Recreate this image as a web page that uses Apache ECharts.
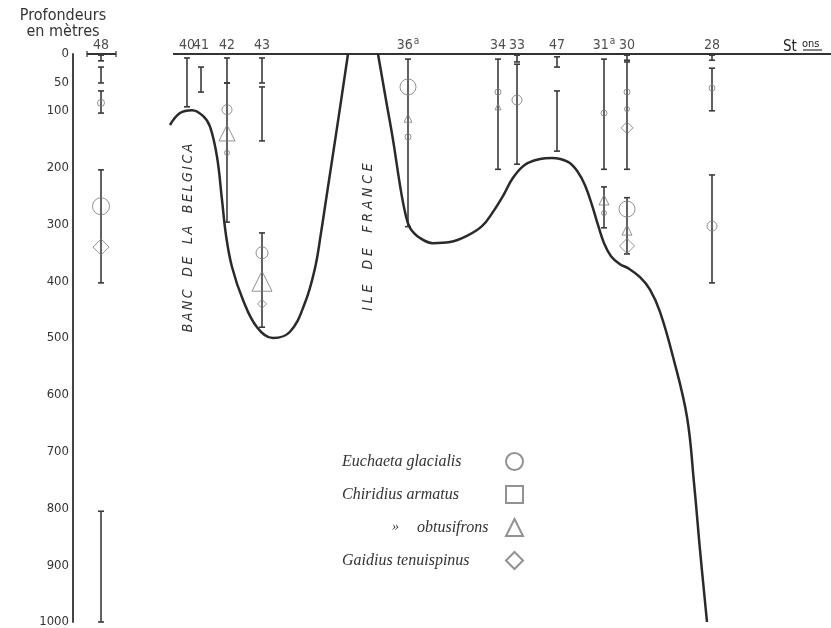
<!DOCTYPE html>
<html>
<head>
<meta charset="utf-8">
<script src="https://cdn.jsdelivr.net/npm/echarts@6/dist/echarts.min.js"></script>
<style>html,body{margin:0;background:#fff}#main{width:831px;height:628px}</style>
</head>
<body>
<div id="main"></div>
<script>
// stations along the section (horizontal distance, arbitrary units)
var stationNames = ['48', '40', '41', '42', '43', '36a', '34', '33', '47', '31a', '30', '28'];
var stationDist = [28, 114, 128, 154, 189, 335, 425, 444, 484, 531, 554, 639];

// depth labels (m)
var depthTicks = [0, 50, 100, 200, 300, 400, 500, 600, 700, 800, 900, 1000];

// hauls: [station, top depth, bottom depth]
var hauls = [
  ['48', 2, 12], ['48', 23, 51], ['48', 65, 104], ['48', 204, 403], ['48', 805, 1000],
  ['40', 7, 93],
  ['41', 23, 67],
  ['42', 7, 51], ['42', 51, 296],
  ['43', 7, 51], ['43', 58, 153], ['43', 315, 481],
  ['36a', 9, 304],
  ['34', 9, 203],
  ['33', 2, 14], ['33', 18, 194],
  ['47', 5, 23], ['47', 65, 171],
  ['31a', 9, 203], ['31a', 234, 306],
  ['30', 2, 11], ['30', 14, 203], ['30', 253, 352],
  ['28', 2, 11], ['28', 25, 100], ['28', 213, 403]
];

// catches: [station, depth, mark size]
var euchaeta = [['48', 86, 7], ['48', 268, 17], ['42', 98, 10], ['42', 174, 5], ['43', 350, 12],
  ['36a', 58, 16], ['36a', 146, 6], ['34', 67, 6], ['33', 81, 10], ['31a', 104, 6], ['31a', 280, 5],
  ['30', 67, 6], ['30', 97, 5], ['30', 273, 16], ['28', 60, 6], ['28', 303, 10]];
var armatus = [];
var obtusifrons = [['42', 139, 16], ['43', 400, 20], ['36a', 113, 8], ['34', 93, 6], ['31a', 257, 10], ['30', 310, 10]];
var gaidius = [['48', 340, 16], ['43', 440, 9], ['30', 130, 12], ['30', 338, 15]];

// sea bottom profile
var bankDist = [97, 107, 119, 130, 137, 144, 149, 153, 159, 170, 184, 200, 217, 232, 242, 248, 253, 264, 275];
var bankDepth = [125, 104, 99, 109, 128, 181, 257, 319, 375, 433, 481, 500, 489, 438, 377, 315, 257, 130, 0];
var slopeDist = [305, 313, 320, 327, 332, 337, 347, 360, 377, 394, 409, 420, 430, 440, 452, 467, 479, 495, 505, 512,
  519, 525, 531, 538, 547, 555, 567, 577, 587, 600, 614, 621, 627, 634];
var slopeDepth = [0, 81, 151, 231, 278, 306, 324, 333, 331, 320, 303, 278, 250, 218, 195, 185, 183, 190, 208, 231,
  266, 301, 333, 356, 370, 377, 393, 415, 454, 533, 639, 755, 873, 1000];

// sea surface line segments
var surfaceFrom = [14, 100];
var surfaceTo = [43, 758];

var SANS = '"DejaVu Sans Condensed", "DejaVu Sans", sans-serif';
var SERIF = '"Liberation Serif", "DejaVu Serif", serif';

function stX(name) { return stationDist[stationNames.indexOf(name)]; }
function pts(list) { return list.map(function (p) { return [stX(p[0]), p[1], p[2]]; }); }
function zip(a, b) { return a.map(function (v, i) { return [v, b[i]]; }); }

var markStyle = { color: 'rgba(0,0,0,0)', borderColor: '#777', borderWidth: 1 };
function catchSeries(name, symbol, data) {
  return {
    name: name, type: 'scatter', symbol: symbol, data: pts(data), z: 5,
    symbolSize: function (v) { return v[2]; },
    itemStyle: markStyle
  };
}

var chart = echarts.init(document.getElementById('main'));
chart.setOption({
  animation: false,
  backgroundColor: '#fff',
  grid: { left: 73, right: 0, top: 54, bottom: 6, outerBoundsMode: 'none' },
  xAxis: { type: 'value', min: 0, max: 758, show: false },
  yAxis: {
    type: 'value', min: 0, max: 1000, inverse: true,
    axisLine: { show: true, lineStyle: { color: '#444', width: 2 } },
    axisTick: { show: false },
    splitLine: { show: false },
    axisLabel: {
      customValues: depthTicks, margin: 4, fontSize: 13, color: '#333', fontFamily: SANS,
      formatter: function (v) { return String(v); }
    }
  },
  legend: {
    orient: 'vertical', align: 'right', right: 307, top: 452, padding: 0,
    itemWidth: 17, itemHeight: 17, itemGap: 14,
    data: [
      { name: 'Euchaeta glacialis', icon: 'circle' },
      { name: 'Chiridius armatus', icon: 'rect' },
      { name: 'Chiridius obtusifrons', icon: 'triangle' },
      { name: 'Gaidius tenuispinus', icon: 'diamond' }
    ],
    formatter: function (name) {
      if (name === 'Chiridius obtusifrons') return '{s| }{g|\u00bb}{o|obtusifrons}';
      return '{t|' + name + '}';
    },
    textStyle: {
      color: '#333', fontFamily: SERIF, fontStyle: 'italic', fontSize: 16,
      rich: {
        t: { width: 159, align: 'left', fontFamily: SERIF, fontStyle: 'italic', fontSize: 16, color: '#333' },
        s: { width: 50, align: 'left', fontFamily: SERIF, fontSize: 16 },
        g: { width: 25, align: 'left', fontFamily: SERIF, fontSize: 14, color: '#333' },
        o: { width: 84, align: 'left', fontFamily: SERIF, fontStyle: 'italic', fontSize: 16, color: '#333' }
      }
    }
  },
  graphic: [
    { type: 'text', x: 63, y: 8, style: { text: 'Profondeurs\nen mètres', align: 'center', verticalAlign: 'top',
      fontSize: 16, lineHeight: 16, fontFamily: SANS, fill: '#333' } },
    { type: 'text', x: 783, y: 47, style: { text: 'St', verticalAlign: 'middle', fontSize: 15, fontFamily: SANS, fill: '#222' } },
    { type: 'text', x: 802, y: 44, style: { text: 'ons', verticalAlign: 'middle', fontSize: 11, fontFamily: SANS, fill: '#222' } },
    { type: 'line', shape: { x1: 803, y1: 50, x2: 822, y2: 50 }, style: { stroke: '#333', lineWidth: 1.2 } },
    { type: 'text', x: 188, y: 238, rotation: Math.PI / 2, style: {
      text: 'B\u2009A\u2009N\u2009C\u2003D\u2009E\u2003L\u2009A\u2003B\u2009E\u2009L\u2009G\u2009I\u2009C\u2009A',
      align: 'center', verticalAlign: 'middle', fontSize: 14, fontStyle: 'italic', fontFamily: SANS, fill: '#333' } },
    { type: 'text', x: 368, y: 237, rotation: Math.PI / 2, style: {
      text: 'I\u2009\u200aL\u2009\u200aE\u2003\u2009D\u2009\u200aE\u2003\u2009F\u2009\u200aR\u2009\u200aA\u2009\u200aN\u2009\u200aC\u2009\u200aE',
      align: 'center', verticalAlign: 'middle', fontSize: 14, fontStyle: 'italic', fontFamily: SANS, fill: '#333' } }
  ],
  series: [
    {
      name: 'surface', type: 'custom', silent: true,
      data: zip(surfaceFrom, surfaceTo),
      renderItem: function (params, api) {
        var a = api.coord([api.value(0), 0]);
        var b = api.coord([api.value(1), 0]);
        var st = { stroke: '#333', lineWidth: 2 };
        var kids = [{ type: 'line', shape: { x1: a[0], y1: a[1], x2: b[0], y2: b[1] }, style: st }];
        if (params.dataIndex === 0) {
          kids.push({ type: 'line', shape: { x1: a[0], y1: a[1] - 3, x2: a[0], y2: a[1] + 3 }, style: { stroke: '#333', lineWidth: 1.2 } });
          kids.push({ type: 'line', shape: { x1: b[0], y1: b[1] - 3, x2: b[0], y2: b[1] + 3 }, style: { stroke: '#333', lineWidth: 1.2 } });
        }
        return { type: 'group', children: kids };
      }
    },
    {
      name: 'hauls', type: 'custom', silent: true,
      data: hauls.map(function (h) { return [stX(h[0]), h[1], h[2]]; }),
      encode: { x: 0, y: [1, 2] },
      renderItem: function (params, api) {
        var a = api.coord([api.value(0), api.value(1)]);
        var b = api.coord([api.value(0), api.value(2)]);
        var st = { stroke: '#3a3a3a', lineWidth: 1.6 };
        return { type: 'group', children: [
          { type: 'line', shape: { x1: a[0], y1: a[1], x2: b[0], y2: b[1] }, style: st },
          { type: 'line', shape: { x1: a[0] - 3, y1: a[1], x2: a[0] + 3, y2: a[1] }, style: st },
          { type: 'line', shape: { x1: b[0] - 3, y1: b[1], x2: b[0] + 3, y2: b[1] }, style: st }
        ] };
      }
    },
    {
      name: 'bank', type: 'line', smooth: 0.4, showSymbol: false, silent: true,
      data: zip(bankDist, bankDepth), lineStyle: { color: '#2a2a2a', width: 2.5 }
    },
    {
      name: 'slope', type: 'line', smooth: 0.4, showSymbol: false, silent: true,
      data: zip(slopeDist, slopeDepth), lineStyle: { color: '#2a2a2a', width: 2.5 }
    },
    {
      name: 'stations', type: 'scatter', silent: true, symbolSize: 1,
      itemStyle: { color: 'rgba(0,0,0,0)' },
      data: stationNames.map(function (n, i) { return { name: n, value: [stationDist[i], 0] }; }),
      label: {
        show: true, position: 'top', distance: 1, color: '#222',
        formatter: function (p) {
          var n = p.name;
          if (n.slice(-1) === 'a') return '{n|' + n.slice(0, -1) + '}{s|a}';
          return '{n|' + n + '}';
        },
        rich: {
          n: { fontSize: 14, fontFamily: SANS, color: '#222', verticalAlign: 'bottom' },
          s: { fontSize: 10, fontFamily: SANS, color: '#222', verticalAlign: 'bottom', padding: [0, 0, 6, 1] }
        }
      }
    },
    catchSeries('Euchaeta glacialis', 'circle', euchaeta),
    catchSeries('Chiridius armatus', 'rect', armatus),
    catchSeries('Chiridius obtusifrons', 'triangle', obtusifrons),
    catchSeries('Gaidius tenuispinus', 'diamond', gaidius)
  ]
});
</script>
</body>
</html>
